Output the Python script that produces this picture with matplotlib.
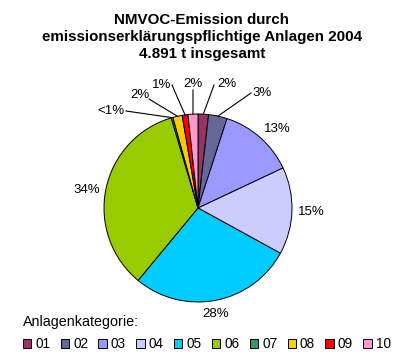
import numpy as np
import matplotlib.pyplot as plt
from matplotlib.patches import Rectangle

# data
categories = ['01', '02', '03', '04', '05', '06', '07', '08', '09', '10']
shares = [1.8, 3.2, 13.0, 15.0, 28.0, 34.4, 0.3, 1.6, 1.0, 1.7]
pct_labels = ['2%', '3%', '13%', '15%', '28%', '34%', '<1%', '2%', '1%', '2%']
colors = ['#993366', '#666699', '#9999FF', '#CCCCFF', '#00CCFF',
          '#99CC00', '#339966', '#FFCC00', '#FF0000', '#FF99CC']

W, H = 413, 360
fig = plt.figure(figsize=(W / 100, H / 100), dpi=100)
plt.rcParams['font.family'] = ['Liberation Sans', 'DejaVu Sans']

# axes in pixel units (y measured from top via H - y)
ax = fig.add_axes([0, 0, 1, 1])
ax.set_aspect('equal')

cx, cy, r = 198, H - 208, 94
wedges, _ = ax.pie(shares, colors=colors, startangle=90, counterclock=False,
                   center=(cx, cy), radius=r, frame=True,
                   wedgeprops=dict(edgecolor='black', linewidth=0.7))
ax.set_xlim(0, W)
ax.set_ylim(0, H)
ax.axis('off')

# label positions (pixels from top-left) and leader line start points
label_pos = [(227, 84), (262, 93), (277, 129), (311, 212), (216, 314),
             (87, 190), (111, 111), (140, 95), (162, 85), (193, 84)]
line_start = [(214, 85), (251, 93), None, None, None, None,
              (126, 111), (149, 99), (172, 85), (193, 90)]

for w, txt, (lx, ly), st in zip(wedges, pct_labels, label_pos, line_start):
    ax.text(lx, H - ly, txt, ha='center', va='center', fontsize=9.5)
    if st is not None:
        mid = np.deg2rad((w.theta1 + w.theta2) / 2)
        ex, ey = cx + r * np.cos(mid), cy + r * np.sin(mid)
        ax.plot([st[0], ex], [H - st[1], ey], color='black', lw=0.8)

fig.text(202 / W, 1 - 37 / H,
         'NMVOC-Emission durch\nemissionserklärungspflichtige Anlagen 2004\n4.891 t insgesamt',
         ha='center', va='center', fontsize=10.9, fontweight='bold', linespacing=1.3)

fig.text(23 / W, 1 - 322 / H, 'Anlagenkategorie:', ha='left', va='center', fontsize=10.3)

handles = [Rectangle((0, 0), 1, 1, facecolor=c, edgecolor='black', linewidth=0.7) for c in colors]
fig.legend(handles, categories, ncol=10, loc='center left',
           bbox_to_anchor=(23 / W, 1 - 344 / H), frameon=False, fontsize=9.8,
           handlelength=0.61, handleheight=0.61, handletextpad=0.3,
           columnspacing=0.76, borderpad=0, borderaxespad=0)

fig.savefig('out.png', dpi=100)
